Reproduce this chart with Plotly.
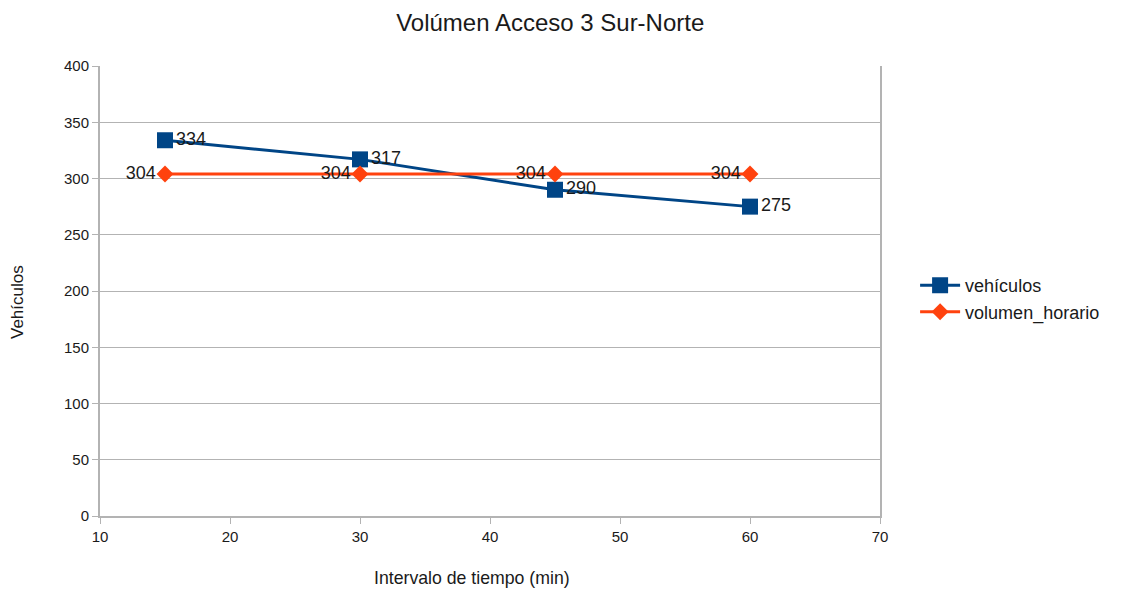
import plotly.graph_objects as go

intervalos = [15, 30, 45, 60]
vehiculos = [334, 317, 290, 275]
volumen_horario = [304, 304, 304, 304]

font = "Liberation Sans, Arial, sans-serif"

fig = go.Figure()
fig.add_trace(go.Scatter(
    x=intervalos, y=vehiculos, name="vehículos",
    mode="lines+markers+text",
    line=dict(color="#004586", width=3),
    marker=dict(symbol="square", size=16, color="#004586"),
    text=[str(v) for v in vehiculos], textposition="middle right",
    textfont=dict(size=18, color="#1a1a1a", family=font),
))
fig.add_trace(go.Scatter(
    x=intervalos, y=volumen_horario, name="volumen_horario",
    mode="lines+markers+text",
    line=dict(color="#ff420e", width=3),
    marker=dict(symbol="diamond", size=13, color="#ff420e"),
    text=[str(v) for v in volumen_horario], textposition="middle left",
    textfont=dict(size=18, color="#1a1a1a", family=font),
))

fig.update_layout(
    width=1132, height=594,
    paper_bgcolor="white", plot_bgcolor="white",
    margin=dict(l=92, r=260, t=58, b=86),
    font=dict(family=font, color="#1a1a1a"),
    title=dict(text="Volúmen Acceso 3 Sur-Norte", x=0.479, xref="container", xanchor="center",
               y=0.976, yref="container", yanchor="middle", font=dict(size=24, family=font)),
    showlegend=True,
    legend=dict(x=1.045, y=0.483, xanchor="left", yanchor="middle",
                font=dict(size=18, family=font), tracegroupgap=0,
                itemwidth=40),
    xaxis=dict(range=[10, 70], tickvals=[10, 20, 30, 40, 50, 60, 70],
               showgrid=False, showline=True, linecolor="#b3b3b3", linewidth=2,
               ticks="outside", ticklen=6, tickcolor="#b3b3b3",
               tickfont=dict(size=15), zeroline=False, automargin=False),
    yaxis=dict(range=[0, 400], tickvals=list(range(0, 401, 50)),
               showgrid=True, gridcolor="#b3b3b3", gridwidth=1,
               showline=True, linecolor="#b3b3b3", linewidth=2, mirror=True,
               ticks="outside", ticklen=6, tickcolor="#b3b3b3",
               tickfont=dict(size=15), zeroline=False, automargin=False),
    annotations=[
        dict(text="Intervalo de tiempo (min)", xref="paper", yref="paper",
             x=0.477, y=-0.1378, xanchor="center", yanchor="middle",
             showarrow=False, font=dict(size=17.7, family=font)),
        dict(text="Vehículos", xref="paper", yref="paper",
             x=-0.1051, y=0.4756, xanchor="center", yanchor="middle",
             textangle=-90, showarrow=False, font=dict(size=17, family=font)),
    ],
)

fig.write_html("out.html")
